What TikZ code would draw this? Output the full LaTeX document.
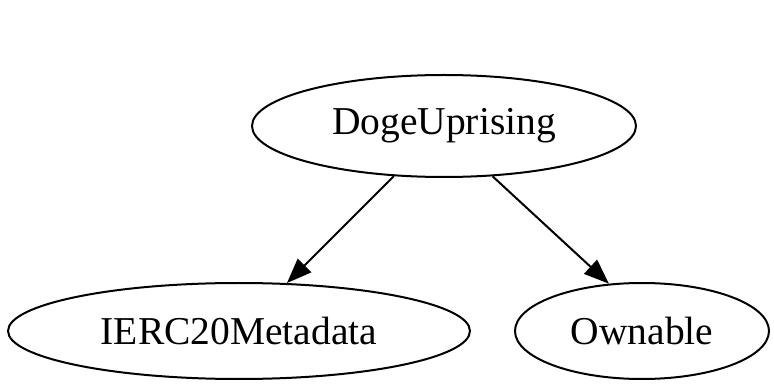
\documentclass[tikz,border=0pt]{standalone}
\usepackage{fontspec}
\setmainfont{Liberation Serif}
\usetikzlibrary{shapes.geometric,arrows.meta}
\begin{document}
\begin{tikzpicture}[
  cls/.style={draw=black, line width=2pt, ellipse, inner sep=0pt,
    font=\fontsize{39.5}{41}\selectfont},
  dep/.style={draw=black, line width=2pt,
    -{Triangle[length=25pt, width=19pt]}}
]
\useasboundingbox (0pt,0pt) rectangle (774pt,-387pt);
\node[cls, minimum width=384pt, minimum height=102pt] (doge) at (444pt,-126pt) {DogeUprising};
\node[cls, minimum width=462pt, minimum height=96pt] (ierc) at (239pt,-331pt) {IERC20Metadata};
\node[cls, minimum width=254pt, minimum height=96pt] (own) at (642pt,-331pt) {Ownable};
\draw[dep] (doge) -- (ierc);
\draw[dep] (doge.-46) -- (own.125);
\end{tikzpicture}
\end{document}
